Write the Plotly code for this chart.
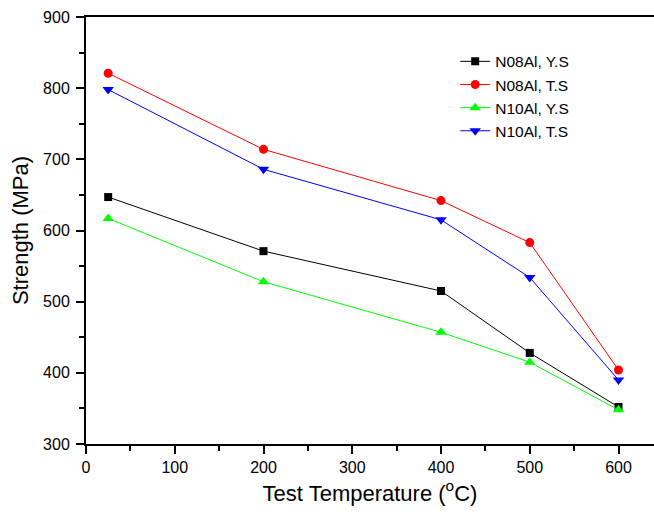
import plotly.graph_objects as go

temps = [25, 200, 400, 500, 600]
n08_ys = [647, 571, 515, 428, 352]
n08_ts = [821, 714, 642, 583, 404]
n10_ys = [617, 528, 457, 415, 348]
n10_ts = [798, 686, 615, 534, 390]

series = [
    ("N08Al, Y.S", n08_ys, "#000000", "square", 8),
    ("N08Al, T.S", n08_ts, "#FF0000", "circle", 9),
    ("N10Al, Y.S", n10_ys, "#00FF00", "triangle-up", 10),
    ("N10Al, T.S", n10_ts, "#0000FF", "triangle-down", 10),
]

fig = go.Figure()
for name, vals, col, sym, sz in series:
    fig.add_trace(go.Scatter(
        x=temps, y=vals, name=name, mode="lines+markers",
        line=dict(color=col, width=1),
        marker=dict(symbol=sym, size=sz, color=col, line=dict(width=0)),
    ))

axis_font = dict(family="Liberation Sans, Arial, sans-serif", size=16, color="#000000")
fig.update_layout(
    width=654, height=521,
    margin=dict(l=86, r=0, t=17, b=77),
    paper_bgcolor="white", plot_bgcolor="white",
    font=axis_font,
    showlegend=True,
    legend=dict(x=0.65, y=0.935, xanchor="left", yanchor="top",
                bgcolor="rgba(0,0,0,0)", font=dict(size=15.5), tracegroupgap=0,
                itemwidth=30),
    xaxis=dict(
        range=[0, 640], tickvals=[0, 100, 200, 300, 400, 500, 600],
        showline=True, linecolor="black", linewidth=2, mirror=True,
        ticks="outside", ticklen=8, tickwidth=2, tickcolor="black",
        minor=dict(ticks="outside", ticklen=5, tickwidth=2, tickcolor="black", dtick=50, tick0=0),
        showgrid=False, zeroline=False,
        title=dict(text="Test Temperature (<sup>o</sup>C)", font=dict(size=22), standoff=10),
    ),
    yaxis=dict(
        range=[300, 900], dtick=100,
        showline=True, linecolor="black", linewidth=2, mirror=False,
        ticks="outside", ticklen=8, tickwidth=2, tickcolor="black",
        ticklabelstandoff=3,
        minor=dict(ticks="outside", ticklen=5, tickwidth=2, tickcolor="black", dtick=50, tick0=300),
        showgrid=False, zeroline=False,
        title=dict(text="Strength (MPa)", font=dict(size=22), standoff=8),
    ),
)

fig.write_html("out.html")
